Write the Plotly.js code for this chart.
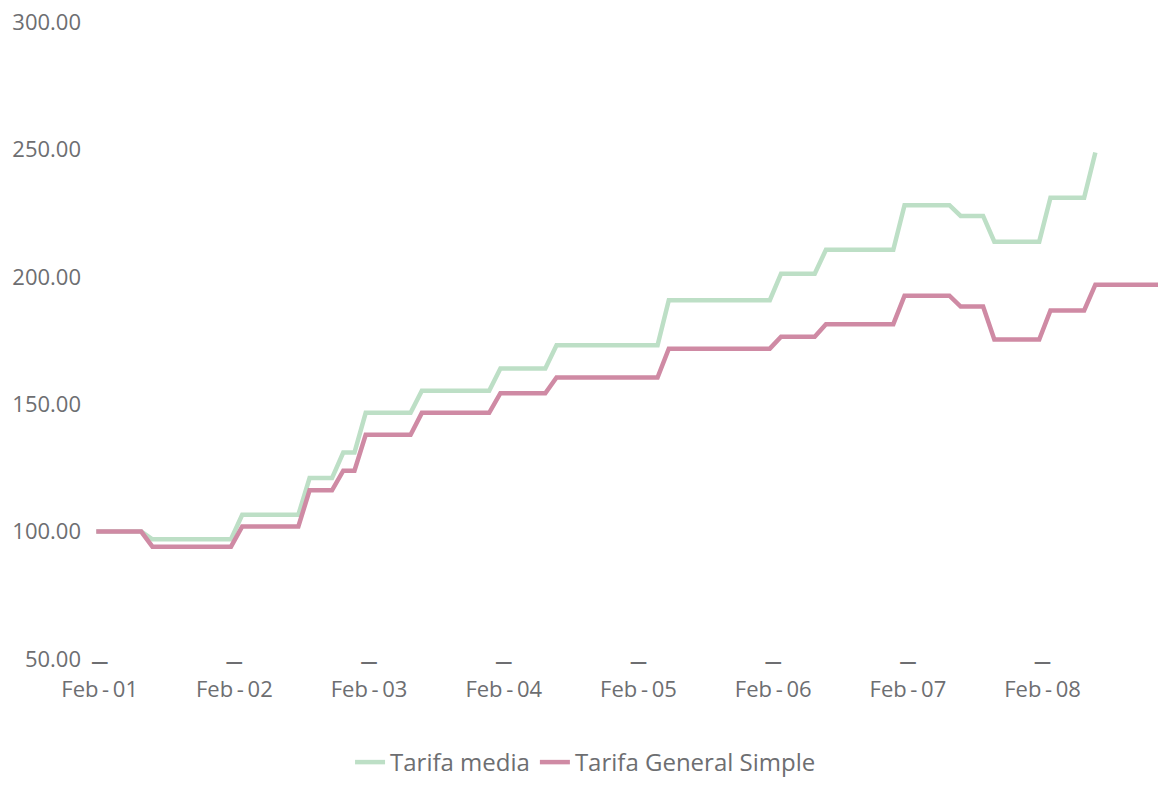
<!DOCTYPE html>
<html>
<head>
<meta charset="utf-8">
<script src="https://cdn.plot.ly/plotly-3.0.1.min.js"></script>
<style>html,body{margin:0;padding:0;background:#fff;}#chart{width:1158px;height:785px;}</style>
</head>
<body>
<div id="chart"></div>
<script>
// Monthly index values, first point = Feb-01
const tarifaMedia = [
  100.0, 100.0, 100.0, 100.0, 100.0,
  97.0, 97.0, 97.0, 97.0, 97.0, 97.0, 97.0, 97.0,
  106.6, 106.6, 106.6, 106.6, 106.6, 106.6,
  121.0, 121.0, 121.0,
  131.0, 131.0,
  146.6, 146.6, 146.6, 146.6, 146.6,
  155.3, 155.3, 155.3, 155.3, 155.3, 155.3, 155.3,
  164.0, 164.0, 164.0, 164.0, 164.0,
  173.1, 173.1, 173.1, 173.1, 173.1, 173.1, 173.1, 173.1, 173.1, 173.1,
  190.8, 190.8, 190.8, 190.8, 190.8, 190.8, 190.8, 190.8, 190.8, 190.8,
  201.2, 201.2, 201.2, 201.2,
  210.6, 210.6, 210.6, 210.6, 210.6, 210.6, 210.6,
  228.1, 228.1, 228.1, 228.1, 228.1,
  223.9, 223.9, 223.9,
  213.8, 213.8, 213.8, 213.8, 213.8,
  231.0, 231.0, 231.0, 231.0,
  248.8
];
const tarifaGeneralSimple = [
  100.0, 100.0, 100.0, 100.0, 100.0,
  94.1, 94.1, 94.1, 94.1, 94.1, 94.1, 94.1, 94.1,
  102.0, 102.0, 102.0, 102.0, 102.0, 102.0,
  116.2, 116.2, 116.2,
  123.9, 123.9,
  138.0, 138.0, 138.0, 138.0, 138.0,
  146.6, 146.6, 146.6, 146.6, 146.6, 146.6, 146.6,
  154.3, 154.3, 154.3, 154.3, 154.3,
  160.5, 160.5, 160.5, 160.5, 160.5, 160.5, 160.5, 160.5, 160.5, 160.5,
  171.8, 171.8, 171.8, 171.8, 171.8, 171.8, 171.8, 171.8, 171.8, 171.8,
  176.5, 176.5, 176.5, 176.5,
  181.4, 181.4, 181.4, 181.4, 181.4, 181.4, 181.4,
  192.6, 192.6, 192.6, 192.6, 192.6,
  188.3, 188.3, 188.3,
  175.4, 175.4, 175.4, 175.4, 175.4,
  186.8, 186.8, 186.8, 186.8,
  196.9, 196.9, 196.9, 196.9, 196.9, 196.9, 196.9
];
const tickMonths = [0, 12, 24, 36, 48, 60, 72, 84];
const tickLabels = ["Feb\u2009-\u200901", "Feb\u2009-\u200902", "Feb\u2009-\u200903", "Feb\u2009-\u200904",
                    "Feb\u2009-\u200905", "Feb\u2009-\u200906", "Feb\u2009-\u200907", "Feb\u2009-\u200908"];
const yTicks = [50, 100, 150, 200, 250, 300];

const FONT = '"Open Sans", "Noto Sans", sans-serif';
const GRAY = '#6d6e71';

const traces = [
  {
    type: 'scatter', mode: 'lines', name: 'Tarifa media',
    x: tarifaMedia.map((v, i) => i), y: tarifaMedia,
    line: {color: '#bddfc6', width: 4.5}
  },
  {
    type: 'scatter', mode: 'lines', name: 'Tarifa General Simple',
    x: tarifaGeneralSimple.map((v, i) => i), y: tarifaGeneralSimple,
    line: {color: '#cf8aa4', width: 4.5}
  }
];

const layout = {
  width: 1158, height: 785,
  margin: {l: 90, r: 0, t: 22, b: 123},
  paper_bgcolor: '#ffffff', plot_bgcolor: '#ffffff',
  font: {family: FONT, size: 22, color: GRAY},
  showlegend: true,
  legend: {
    orientation: 'h', x: 0.464, xanchor: 'center', y: -0.1625, yanchor: 'middle',
    font: {family: FONT, size: 24, color: GRAY}, itemwidth: 30, tracegroupgap: 0
  },
  xaxis: {
    range: [-0.56, 94.58],
    tickmode: 'array',
    tickvals: tickMonths.map(m => m + 0.3),
    ticktext: tickLabels.map(t => '<span style="font-size:17px;font-weight:bold">\u2014</span><br>' + t),
    showgrid: false, zeroline: false, showline: false, ticks: '',
    tickfont: {family: FONT, size: 22, color: GRAY},
    ticklabelstandoff: -14
  },
  yaxis: {
    range: [50, 300],
    tickmode: 'array', tickvals: yTicks,
    tickformat: '.2f',
    showgrid: false, zeroline: false, showline: false, ticks: '',
    tickfont: {family: FONT, size: 22, color: GRAY},
    ticklabelstandoff: 8
  }
};

Plotly.newPlot('chart', traces, layout, {displayModeBar: false, staticPlot: true});
</script>
</body>
</html>
